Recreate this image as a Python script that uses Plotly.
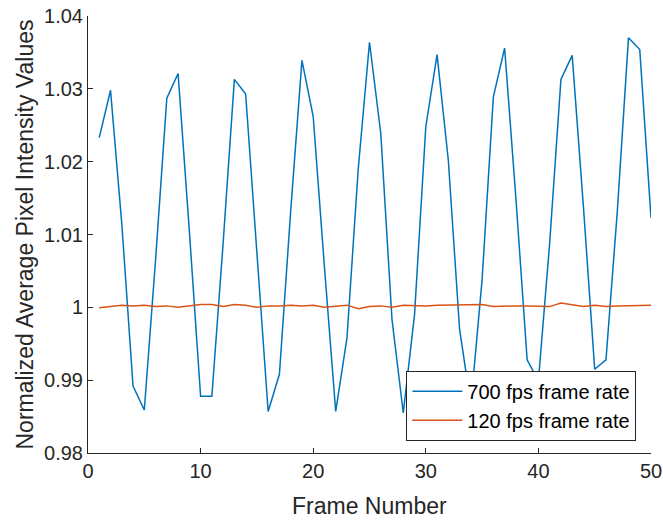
import plotly.graph_objects as go

frames = list(range(1, 51))

fps700 = [1.0233, 1.0298, 1.0115, 0.9892, 0.9859, 1.0065, 1.0287, 1.0321, 1.0105, 0.9878,
          0.9878, 1.0088, 1.0313, 1.0293, 1.0075, 0.9857, 0.9908, 1.0132, 1.0339, 1.0262,
          1.0055, 0.9857, 0.9958, 1.0190, 1.0364, 1.0239, 0.9983, 0.9855, 0.9990, 1.0248,
          1.0347, 1.0202, 0.9970, 0.9866, 1.0038, 1.0289, 1.0356, 1.0150, 0.9928, 0.9899,
          1.0088, 1.0313, 1.0346, 1.0138, 0.9915, 0.9928, 1.0130, 1.0370, 1.0354, 1.0123]

fps120 = [0.99995, 1.0001, 1.0003, 1.0002, 1.0003, 1.0001, 1.0002, 1.0000, 1.0002, 1.0004,
          1.0004, 1.0001, 1.0004, 1.0003, 1.0000, 1.0002, 1.0002, 1.0003, 1.0002, 1.0003,
          1.0000, 1.0001, 1.0003, 0.9998, 1.0001, 1.0002, 1.0000, 1.0003, 1.0002, 1.0002,
          1.0003, 1.0003, 1.0003, 1.0004, 1.0004, 1.0001, 1.0002, 1.0002, 1.0002, 1.0002,
          1.0001, 1.0006, 1.0003, 1.0001, 1.0003, 1.0001, 1.0002, 1.0002, 1.0002, 1.0003]

x_ticks = [0, 10, 20, 30, 40, 50]
y_ticks = [0.98, 0.99, 1.00, 1.01, 1.02, 1.03, 1.04]
y_tick_labels = ["0.98", "0.99", "1", "1.01", "1.02", "1.03", "1.04"]

x_title = "Frame Number"
y_title = "Normalized Average Pixel Intensity Values"

axis_color = "#262626"
font_family = "Liberation Sans, Arial, sans-serif"

fig = go.Figure()
fig.add_trace(go.Scatter(x=frames, y=fps700, mode="lines", name="700 fps frame rate",
                         line=dict(color="#0072BD", width=1.5)))
fig.add_trace(go.Scatter(x=frames, y=fps120, mode="lines", name="120 fps frame rate",
                         line=dict(color="#D95319", width=1.5)))

fig.update_layout(
    width=663, height=520,
    margin=dict(l=88, r=12, t=16, b=67, autoexpand=False),
    paper_bgcolor="white", plot_bgcolor="white",
    font=dict(family=font_family, size=20, color=axis_color),
    showlegend=True,
    legend=dict(x=0.974, y=0.028, xanchor="right", yanchor="bottom",
                bgcolor="white", bordercolor=axis_color, borderwidth=1,
                font=dict(size=20, color="#000000"),
                tracegroupgap=0, itemwidth=50),
    annotations=[
        dict(text=x_title, xref="paper", yref="paper", x=0.5, y=0,
             xanchor="center", yanchor="middle", yshift=-53, showarrow=False,
             font=dict(size=23, color=axis_color)),
        dict(text=y_title, xref="paper", yref="paper", x=0, y=0.5,
             xanchor="center", yanchor="middle", xshift=-64, textangle=-90,
             showarrow=False, font=dict(size=23, color=axis_color)),
    ],
)

fig.update_xaxes(
    range=[0, 50], tickvals=x_ticks, ticktext=[str(v) for v in x_ticks],
    showgrid=False, zeroline=False, showline=True, linecolor=axis_color, linewidth=1,
    ticks="inside", ticklen=5, tickcolor=axis_color, automargin=False,
    tickfont=dict(size=20, color=axis_color),
)
fig.update_yaxes(
    range=[0.98, 1.04], tickvals=y_ticks, ticktext=y_tick_labels,
    showgrid=False, zeroline=False, showline=True, linecolor=axis_color, linewidth=1,
    ticks="inside", ticklen=5, tickcolor=axis_color, automargin=False,
    tickfont=dict(size=20, color=axis_color),
)

# remove the browser's default 8px body margin so the figure sits at the page corner
fig.write_html("out.html", config={"displayModeBar": False},
               post_script="document.body.style.margin='0';")
